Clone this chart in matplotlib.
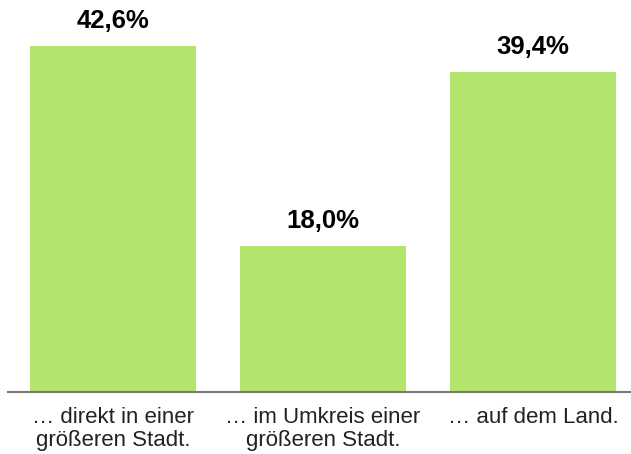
import matplotlib
matplotlib.use("Agg")
import matplotlib.pyplot as plt

plt.rcParams['font.family'] = ['Liberation Sans', 'DejaVu Sans']

categories = ["… direkt in einer\ngrößeren Stadt.",
              "… im Umkreis einer\ngrößeren Stadt.",
              "… auf dem Land."]
values = [42.6, 18.0, 39.4]
labels = ["42,6%", "18,0%", "39,4%"]

fig = plt.figure(figsize=(6.31, 4.54), dpi=100)
# axes runs a bit past the right edge, like the reference
ax = fig.add_axes([8 / 631, 62 / 454, 630 / 631, 392 / 454])

x = range(len(values))
ax.bar(x, values, width=0.795, color='#b3e46b')
ax.set_xlim(-0.5, 2.5)
ax.set_ylim(0, 48.26)

for i, v in enumerate(values):
    ax.annotate(labels[i], (i, v), xytext=(0, 9), textcoords='offset points',
                ha='center', va='bottom', fontsize=18.5, fontweight='bold')

ax.set_xticks(list(x))
ax.set_xticklabels(categories, fontsize=16, color='#222222', linespacing=1.1)
ax.tick_params(axis='x', length=0, pad=11)
ax.set_yticks([])
for s in ['top', 'right', 'left']:
    ax.spines[s].set_visible(False)
ax.spines['bottom'].set_color('#777777')
ax.spines['bottom'].set_linewidth(1.5)

fig.savefig("out.png", dpi=100)
